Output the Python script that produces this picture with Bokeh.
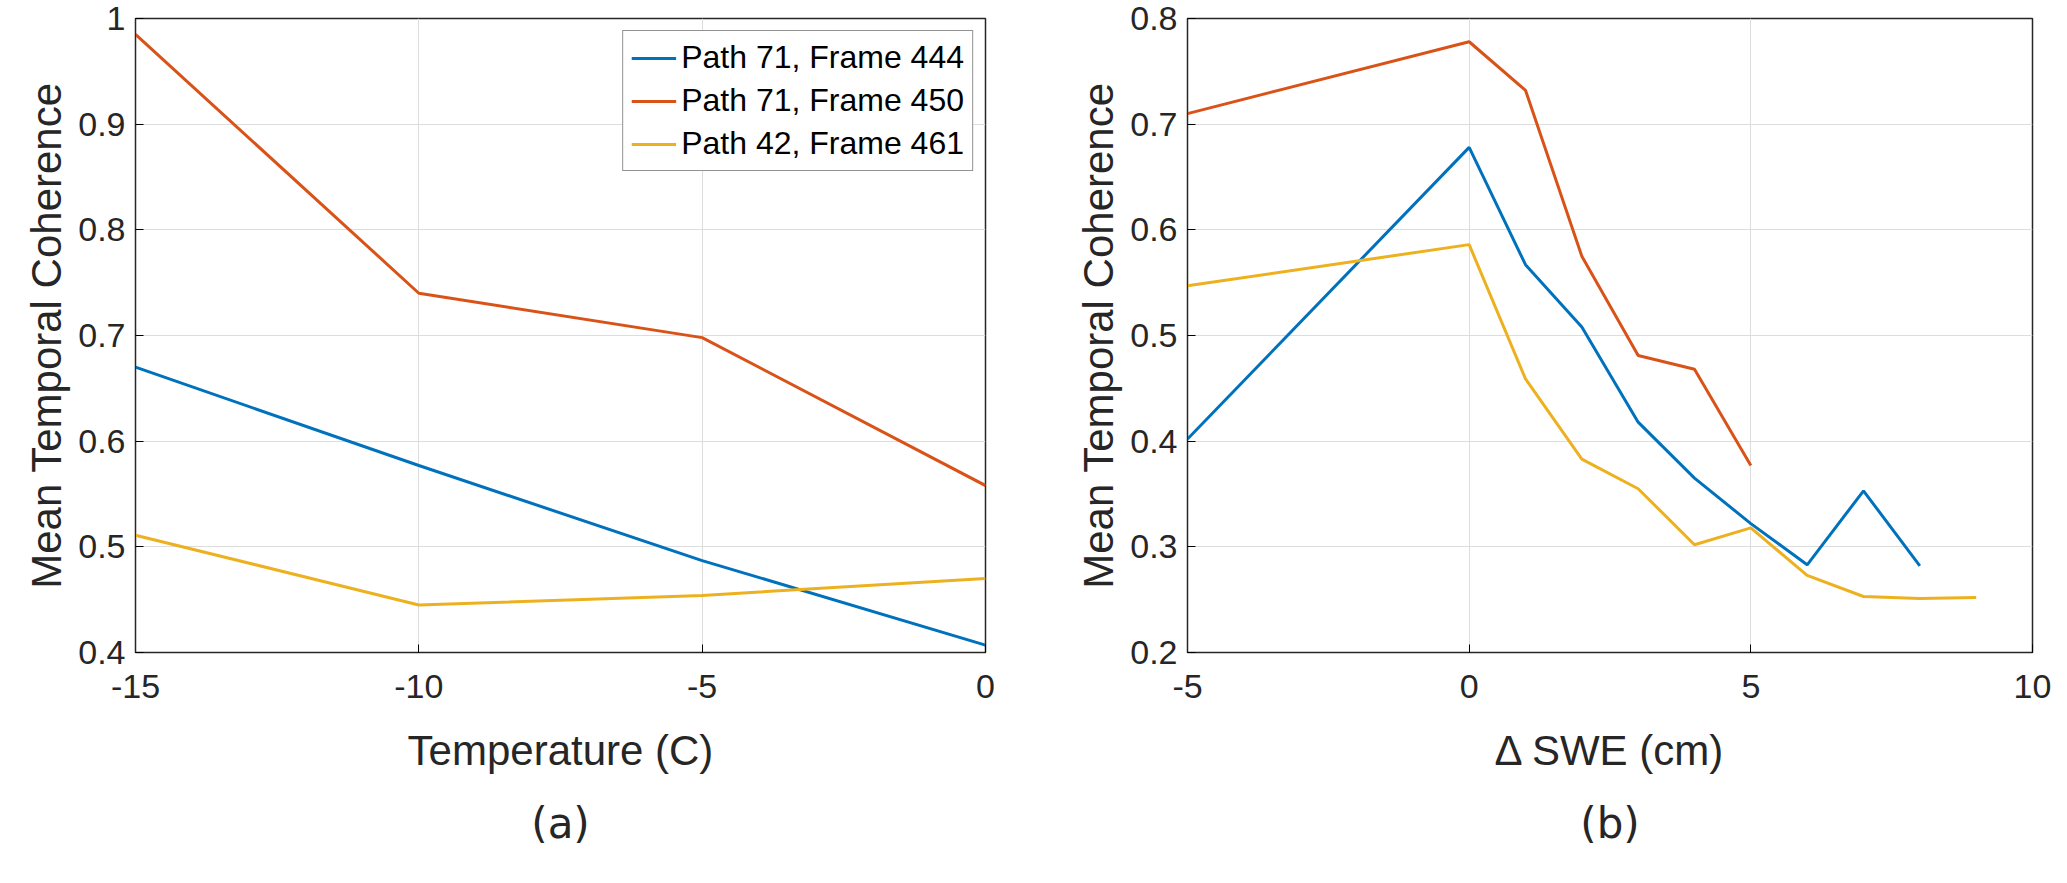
from bokeh.plotting import figure
from bokeh.layouts import row
from bokeh.models import Range1d, Title, FixedTicker, Legend
from bokeh.embed import file_html
from bokeh.resources import INLINE

temp = [-15, -10, -5, 0]
t_444 = [0.670, 0.577, 0.487, 0.407]
t_450 = [0.985, 0.740, 0.698, 0.558]
t_461 = [0.511, 0.445, 0.454, 0.470]

swe_450 = [-5, 0, 1, 2, 3, 4, 5]
c_450 = [0.710, 0.778, 0.732, 0.575, 0.481, 0.468, 0.377]
swe_444 = [-5, 0, 1, 2, 3, 4, 5, 6, 7, 8]
c_444 = [0.402, 0.678, 0.567, 0.508, 0.418, 0.365, 0.322, 0.283, 0.353, 0.282]
swe_461 = [-5, 0, 1, 2, 3, 4, 5, 6, 7, 8, 9]
c_461 = [0.547, 0.586, 0.459, 0.383, 0.355, 0.302, 0.318, 0.273, 0.253, 0.251, 0.252]

labels = ["Path 71, Frame 444", "Path 71, Frame 450", "Path 42, Frame 461"]
colors = ["#0072BD", "#D95319", "#EDB120"]
FONT = "Liberation Sans"


def style(p, xlabel, tag):
    p.outline_line_color = "#262626"
    p.outline_line_width = 1.5
    for ax in (p.xaxis[0], p.yaxis[0]):
        ax.major_label_text_font = FONT
        ax.major_label_text_font_size = "34px"
        ax.major_label_text_color = "#262626"
        ax.axis_label_text_font = FONT
        ax.axis_label_text_font_size = "42px"
        ax.axis_label_text_font_style = "normal"
        ax.axis_label_text_color = "#262626"
        ax.major_tick_in = 8
        ax.major_tick_out = 0
        ax.minor_tick_in = 0
        ax.minor_tick_out = 0
        ax.axis_line_color = "#262626"
    p.xaxis.major_label_standoff = 22
    p.xaxis.axis_label_standoff = 26
    p.yaxis.major_label_standoff = 10
    p.xaxis.axis_label = xlabel
    p.yaxis.axis_label = "Mean Temporal Coherence"
    p.grid.grid_line_color = "#DDDDDD"
    p.add_layout(Title(text=tag, align="center", text_font="DejaVu Sans",
                       text_font_size="42px", text_font_style="normal",
                       text_color="#262626", standoff=40), "below")


def hy(ticks):
    return {t: (("%g" % t).replace("\u2212", "-")) for t in ticks}


p1 = figure(width=1072, height=867, output_backend="svg", toolbar_location=None,
            x_range=Range1d(-15, 0), y_range=Range1d(0.4, 1.0),
            min_border_left=135, min_border_right=87, min_border_top=18)
rs = []
for ys, c in zip([t_444, t_450, t_461], colors):
    rs.append(p1.line(temp, ys, color=c, line_width=3))
xt1 = [-15, -10, -5, 0]
yt1 = [0.4, 0.5, 0.6, 0.7, 0.8, 0.9, 1.0]
p1.xaxis.ticker = FixedTicker(ticks=xt1)
p1.yaxis.ticker = FixedTicker(ticks=yt1)
p1.xaxis.major_label_overrides = hy(xt1)
p1.yaxis.major_label_overrides = hy(yt1)
leg = Legend(items=[(l, [r]) for l, r in zip(labels, rs)], location="top_right",
             label_text_font=FONT, label_text_font_size="32px", label_text_color="#000000",
             border_line_color="#262626", border_line_width=1.5, glyph_width=45,
             spacing=6, padding=8, margin=12)
p1.add_layout(leg)
style(p1, "Temperature (C)", "(a)")

p2 = figure(width=979, height=867, output_backend="svg", toolbar_location=None,
            x_range=Range1d(-5, 10), y_range=Range1d(0.2, 0.8),
            min_border_left=111, min_border_right=19, min_border_top=18)
p2.line(swe_444, c_444, color=colors[0], line_width=3)
p2.line(swe_450, c_450, color=colors[1], line_width=3)
p2.line(swe_461, c_461, color=colors[2], line_width=3)
xt2 = [-5, 0, 5, 10]
yt2 = [0.2, 0.3, 0.4, 0.5, 0.6, 0.7, 0.8]
p2.xaxis.ticker = FixedTicker(ticks=xt2)
p2.yaxis.ticker = FixedTicker(ticks=yt2)
p2.xaxis.major_label_overrides = hy(xt2)
p2.yaxis.major_label_overrides = hy(yt2)
style(p2, "Δ SWE (cm)", "(b)")

layout = row(p1, p2)
open("out.html", "w").write(file_html(layout, INLINE))
